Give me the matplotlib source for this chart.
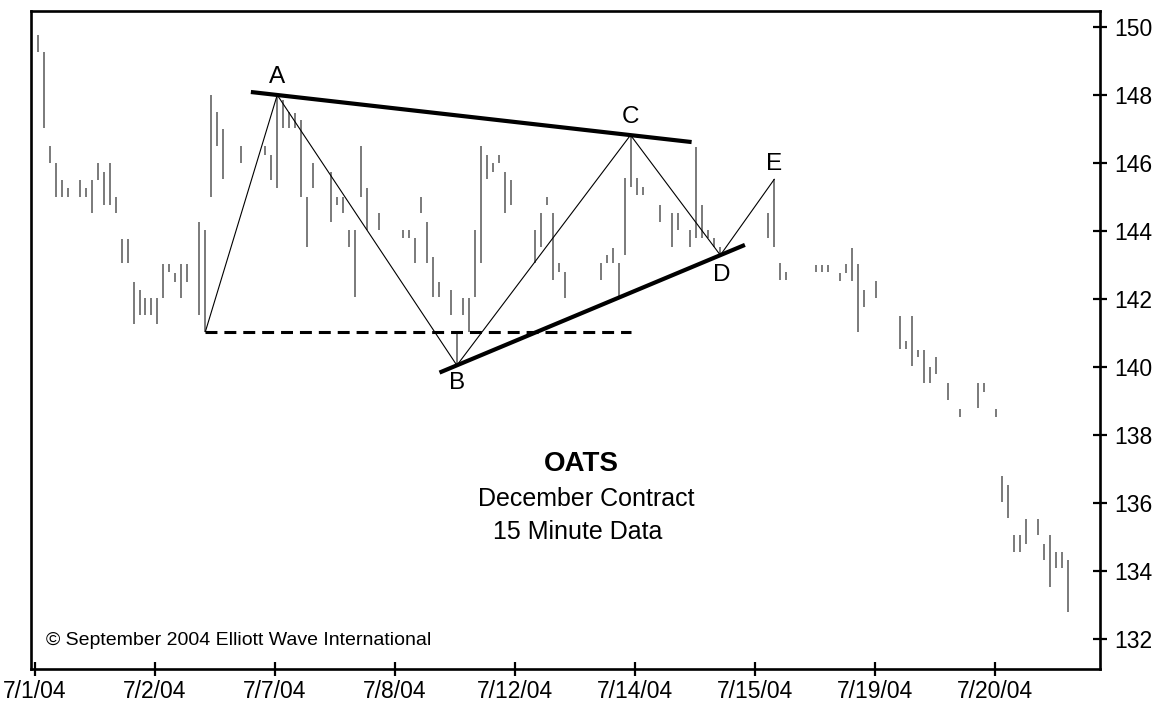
import matplotlib
matplotlib.use("Agg")
import matplotlib.pyplot as plt
import numpy as np

plt.rcParams['font.family'] = ['Liberation Sans', 'DejaVu Sans']
plt.rcParams['lines.scale_dashes'] = False

# ---- data: 15-minute bars (high / low), None = no visible bar ----
highs = [149.76, 149.26, 146.51, 145.99, 145.50, 145.26, None, 145.50, 145.26, 145.50,
         145.99, 145.74, 145.99, 145.01, 143.76, 143.76, 142.51, 142.26, 142.02, 142.02,
         142.02, 143.03, 143.03, 142.76, 143.03, 143.03, None, 144.27, 144.03, 148.00,
         147.51, 147.00, None, None, 146.51, None, None, None, 146.51, 146.24,
         148.00, 147.85, 147.51, 147.46, 147.26, 145.01, 145.99, None, None, 145.74,
         145.01, 145.01, 144.03, 144.03, 146.51, 145.26, None, 144.52, None, None,
         None, 144.03, 144.03, 143.79, 145.01, 144.27, 143.24, 142.51, None, 142.26,
         141.04, 142.02, 142.02, 144.03, 146.51, 146.24, 145.99, 146.24, 145.74, 145.50,
         None, None, None, 144.03, 144.52, 145.01, 144.52, 143.05, 142.80, None,
         None, None, None, None, 143.05, 143.29, 143.49, 143.05, 145.55, 146.82,
         145.55, 145.30, None, None, 144.76, None, 144.52, 144.52, None, 144.03,
         146.48, 144.76, 144.03, 143.79, 143.54, None, None, None, None, None,
         None, None, 144.52, 145.52, 143.05, 142.80, None, None, None, None,
         143.00, 143.00, 143.00, None, 142.77, 143.02, 143.49, 143.02, 142.26, None,
         142.53, None, None, None, 141.51, 140.76, 141.51, 140.50, 140.50, 140.01,
         140.29, None, 139.54, None, 138.76, None, None, 139.54, 139.54, None,
         138.76, 136.79, 136.53, 135.06, 135.06, 135.52, None, 135.52, 134.81, 135.06,
         134.57, 134.57, 134.32]
lows = [149.26, 147.02, 145.99, 145.01, 145.01, 145.01, None, 145.01, 145.01, 144.52,
        145.50, 144.76, 144.76, 144.52, 143.05, 143.05, 141.28, 141.53, 141.53, 141.53,
        141.28, 142.02, 142.80, 142.51, 142.02, 142.51, None, 141.53, 141.04, 145.01,
        146.51, 145.53, None, None, 145.99, None, None, None, 146.24, 145.50,
        145.26, 147.02, 147.02, 147.02, 145.01, 143.54, 145.26, None, None, 144.27,
        144.76, 144.52, 143.54, 142.07, 145.01, 144.03, None, 144.03, None, None,
        None, 143.79, 143.79, 143.05, 144.52, 143.05, 142.07, 142.07, None, 141.53,
        140.05, 141.53, 141.04, 142.07, 143.05, 145.53, 145.74, 145.99, 144.52, 144.76,
        None, None, None, 143.05, 143.54, 144.76, 142.56, 142.80, 142.02, None,
        None, None, None, None, 142.56, 143.05, 143.05, 142.02, 143.29, 145.30,
        145.06, 145.06, None, None, 144.27, None, 143.54, 144.03, None, 143.54,
        143.79, 143.79, 143.79, 143.54, 143.29, None, None, None, None, None,
        None, None, 143.79, 143.54, 142.56, 142.56, None, None, None, None,
        142.80, 142.80, 142.80, None, 142.54, 142.77, 142.54, 141.02, 141.77, None,
        142.02, None, None, None, 140.53, 140.53, 140.04, 140.29, 139.54, 139.54,
        139.79, None, 139.03, None, 138.54, None, None, 138.79, 139.27, None,
        138.54, 136.04, 135.55, 134.57, 134.57, 134.81, None, 135.06, 134.32, 133.54,
        134.08, 134.08, 132.80]

date_labels = ['7/1/04', '7/2/04', '7/7/04', '7/8/04', '7/12/04',
               '7/14/04', '7/15/04', '7/19/04', '7/20/04']
price_ticks = [132, 134, 136, 138, 140, 142, 144, 146, 148, 150]

wave_labels = ['A', 'B', 'C', 'D', 'E']
wave_bars = [40, 70, 99, 114, 123]
wave_is_high = [True, False, True, False, True]
start_bar = 28

title = 'OATS'
subtitle1 = 'December Contract'
subtitle2 = '15 Minute Data'
copyright_text = '\u00a9 September 2004 Elliott Wave International'

# ---- figure ----
W, H = 1156, 702
fig = plt.figure(figsize=(W / 100, H / 100), dpi=100)
ax = fig.add_axes([31 / W, 33 / H, 1069 / W, 658 / H])

bars_per_day = 20.04
x0 = -0.45

xs = np.arange(len(highs))
bx = [x for x, h in zip(xs, highs) if h is not None]
bh = [h for h in highs if h is not None]
bl = [l for l in lows if l is not None]
ax.vlines(bx, bl, bh, colors='#707070', linewidth=1.3)

# zigzag
zig_x = [start_bar] + wave_bars
zig_y = [lows[start_bar]] + [highs[i] if hi else lows[i] for i, hi in zip(wave_bars, wave_is_high)]
ax.plot(zig_x, zig_y, color='black', linewidth=0.8, zorder=3)

# dashed horizontal from start low to C
ax.plot([start_bar, wave_bars[2]], [lows[start_bar], lows[start_bar]],
        color='black', linewidth=2.2, dashes=(8.6, 5.0), zorder=3)

# upper trendline through A and C highs
xa, xc = wave_bars[0], wave_bars[2]
ya, yc = highs[xa], highs[xc]
s = (yc - ya) / (xc - xa)
ux = np.array([xa - 4.4, xc + 10.2])
ax.plot(ux, ya + s * (ux - xa), color='black', linewidth=3.0, solid_capstyle='butt', zorder=4)

# lower trendline through B and D lows
xb, xd = wave_bars[1], wave_bars[3]
yb, yd = lows[xb], lows[xd]
s2 = (yd - yb) / (xd - xb)
lx = np.array([xb - 2.9, xd + 4.1])
ax.plot(lx, yb + s2 * (lx - xb), color='black', linewidth=3.0, solid_capstyle='butt', zorder=4)

# wave labels
offsets = [13, -13, 13, -14.5, 11]
for lab, i, hi, off in zip(wave_labels, wave_bars, wave_is_high, offsets):
    yv = highs[i] if hi else lows[i]
    ax.annotate(lab, (i, yv), xytext=(0.8 if lab == 'D' else 0, off), textcoords='offset points',
                ha='center', va='center', fontsize=17.5)

ax.text(0.5152, 0.3116, title, transform=ax.transAxes, ha='center', va='center',
        fontsize=20, fontweight='bold')
ax.text(0.5197, 0.2580, subtitle1, transform=ax.transAxes, ha='center', va='center', fontsize=18)
ax.text(0.5112, 0.2077, subtitle2, transform=ax.transAxes, ha='center', va='center', fontsize=18)
ax.text(0.014, 0.0426, copyright_text, transform=ax.transAxes, ha='left', va='center', fontsize=14)

ax.set_xlim(-1.12, 177.4)
ax.set_ylim(131.12, 150.47)

ax.set_xticks([x0 + bars_per_day * i for i in range(len(date_labels))])
ax.set_xticklabels(date_labels)
ax.set_yticks(price_ticks)
ax.set_yticklabels([str(p) for p in price_ticks])

ax.yaxis.tick_right()
ax.tick_params(axis='both', direction='inout', length=10, width=1.6, labelsize=16.5, colors='black')
ax.tick_params(axis='x', pad=3)
ax.tick_params(axis='y', pad=5)
for sp in ax.spines.values():
    sp.set_linewidth(1.9)
    sp.set_color('black')

fig.savefig('out.png', dpi=100)
